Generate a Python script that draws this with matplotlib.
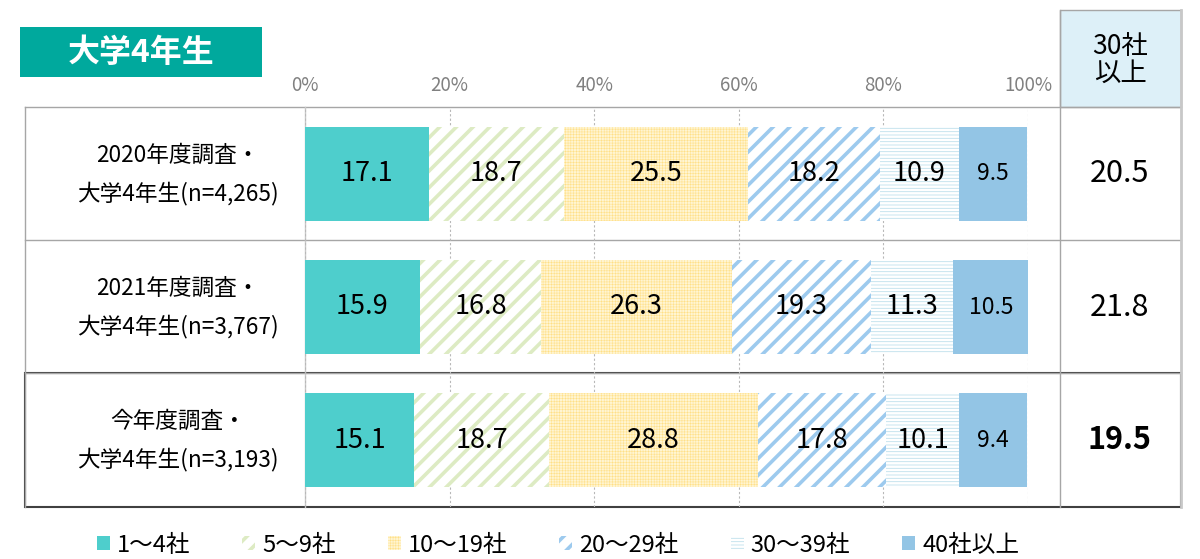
import numpy as np
import matplotlib
matplotlib.use('Agg')
from matplotlib import pyplot as plt
from matplotlib.patches import Rectangle, Patch
from matplotlib.lines import Line2D
import matplotlib.transforms as mtransforms

plt.rcParams['font.family'] = ['Noto Sans CJK JP', 'DejaVu Sans']

# ---------------------------------------------- #
# Data
# ---------------------------------------------- #
title = '大学4年生'
row_line1 = ['2020年度調査・', '2021年度調査・', '今年度調査・']
row_line2 = ['大学4年生(n=4,265)', '大学4年生(n=3,767)', '大学4年生(n=3,193)']
categories = ['1～4社', '5～9社', '10～19社', '20～29社', '30～39社', '40社以上']
values = [
    [17.1, 18.7, 25.5, 18.2, 10.9, 9.5],
    [15.9, 16.8, 26.3, 19.3, 11.3, 10.5],
    [15.1, 18.7, 28.8, 17.8, 10.1, 9.4],
]
over30_header = '30社\n以上'
over30 = ['20.5', '21.8', '19.5']
xticks = [0, 20, 40, 60, 80, 100]
xtick_labels = ['0%', '20%', '40%', '60%', '80%', '100%']

# styles per category: facecolor, hatch colour, hatch, hatch width
styles = [
    dict(fc='#4ECECC', ec='#4ECECC', hatch=None, hlw=1.0),
    dict(fc='white', ec='#DDEBC3', hatch='//', hlw=2.6),
    dict(fc='#FFF5D2', ec='#FFDF85', hatch='++++++', hlw=0.35),
    dict(fc='white', ec='#9DCAEE', hatch='//', hlw=2.6),
    dict(fc='white', ec='#BFE0EC', hatch='-----', hlw=0.6),
    dict(fc='#93C5E5', ec='#93C5E5', hatch=None, hlw=1.0),
]

# ---------------------------------------------- #
# Figure
# ---------------------------------------------- #
W, H = 1200, 559
fig = plt.figure(figsize=(W / 100, H / 100), dpi=100)

# overlay axes in pixel coordinates for the table frame
ov = fig.add_axes([0, 0, 1, 1], zorder=0)
ov.set_xlim(0, W)
ov.set_ylim(H, 0)
ov.axis('off')

grey = '#A6A6A6'
# title box
ov.add_patch(Rectangle((20, 27), 242, 50, fc='#00A99D', ec='none'))
ov.text(141, 53, title, color='white', fontsize=23, fontweight='bold',
        ha='center', va='center')
# header box
ov.add_patch(Rectangle((1060, 10), 121, 97, fc='#DDF0F8', ec=grey, lw=1))
ov.text(1120, 60, over30_header, fontsize=19, ha='center', va='center',
        linespacing=1.0)
# table lines
for yy in [107, 240, 373]:
    ov.add_line(Line2D([25, 1181], [yy, yy], color=grey, lw=1))
ov.add_line(Line2D([25, 25], [107, 507], color=grey, lw=1))
ov.add_line(Line2D([305, 305], [107, 507], color='#C8C8C8', lw=1))
ov.add_line(Line2D([1060, 1060], [10, 507], color=grey, lw=1))
ov.add_line(Line2D([1181, 1181], [10, 507], color='#C8C8C8', lw=2))
# highlighted current row
ov.add_patch(Rectangle((25, 373), 1156, 134, fc='none', ec='#404040', lw=1.5))

# bar axes
ax = fig.add_axes([305 / W, (H - 507) / H, 723 / W, 400 / H], zorder=1)
ax.patch.set_alpha(0)
ax.set_xlim(0, 100)
ax.set_ylim(2.5, -0.5)
for s in ax.spines.values():
    s.set_visible(False)
ax.xaxis.tick_top()
ax.set_xticks(xticks)
ax.set_xticklabels(xtick_labels, fontsize=13.5, color='#808080')
ax.tick_params(axis='x', length=0, pad=8)
ax.set_yticks([])
ax.grid(axis='x', color='#B8B8B8', linestyle=(0, (2, 2)), lw=0.8)
ax.set_axisbelow(True)

vals = np.array(values)
y = np.arange(len(values))
left = np.zeros(len(values))
for j, st in enumerate(styles):
    with plt.rc_context({'hatch.linewidth': st['hlw']}):
        bars = ax.barh(y, vals[:, j], left=left, height=0.705,
                       color=st['fc'], edgecolor=st['ec'], hatch=st['hatch'],
                       lw=0, zorder=2)
    for b in bars:
        if hasattr(b, 'set_hatch_linewidth'):
            b.set_hatch_linewidth(st['hlw'])
    for i in range(len(values)):
        ax.text(left[i] + vals[i, j] / 2, y[i], f'{vals[i, j]:.1f}',
                ha='center', va='center', zorder=3,
                fontsize=16.5 if j == 5 else 19.5)
    left += vals[:, j]

# row labels and 30+ column
tr = mtransforms.blended_transform_factory(ax.transAxes, ax.transData)
for i in range(len(values)):
    ax.text(-0.176, y[i] - 0.14, row_line1[i], transform=tr, ha='center',
            va='center', fontsize=16.3, clip_on=False)
    ax.text(-0.176, y[i] + 0.145, row_line2[i], transform=tr, ha='center',
            va='center', fontsize=16.3, clip_on=False)
    ax.text(1.127, y[i], over30[i], transform=tr, ha='center', va='center',
            fontsize=22, fontweight='bold' if i == 2 else 'normal',
            clip_on=False)

# legend
handles = []
for st in styles:
    with plt.rc_context({'hatch.linewidth': st['hlw']}):
        handles.append(Patch(facecolor=st['fc'], edgecolor=st['ec'],
                             hatch=st['hatch'], lw=0))
leg = fig.legend(handles, categories, loc='center',
                 bbox_to_anchor=(558 / W, 1 - 545 / H),
                 ncol=6, frameon=False, fontsize=17, handlelength=0.55,
                 handleheight=0.55, handletextpad=0.3, columnspacing=2.2)
for h, st in zip(leg.legend_handles, styles):
    if hasattr(h, 'set_hatch_linewidth'):
        h.set_hatch_linewidth(st['hlw'])

plt.savefig('out.png', dpi=100)
